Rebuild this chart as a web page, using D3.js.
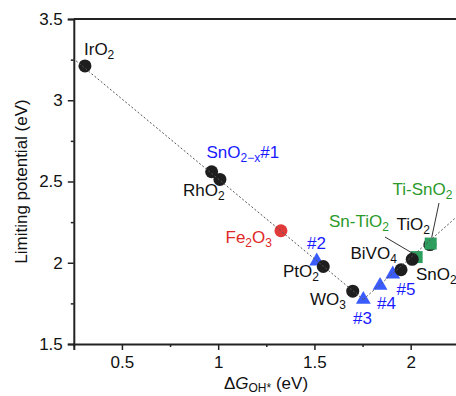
<!DOCTYPE html>
<html><head><meta charset="utf-8">
<script src="https://cdn.jsdelivr.net/npm/d3@7"></script>
<style>body{margin:0;background:#fff}svg{display:block}</style>
</head><body>
<script>
// ---- data ----
const circleNames = ["IrO2","SnO2-x#1","RhO2","Fe2O3","PtO2","WO3","SnO2","BiVO4","TiO2"];
const circleX = [0.308,0.966,1.009,1.326,1.546,1.699,1.950,2.008,2.100];
const circleY = [3.211,2.560,2.513,2.197,1.977,1.825,1.957,2.021,2.112];
const circleColor = ["#1e1e1e","#1e1e1e","#1e1e1e","#e03a3a","#1e1e1e","#1e1e1e","#1e1e1e","#1e1e1e","#1e1e1e"];
const triNames = ["#2","#3","#4","#5"];
const triX = [1.512,1.754,1.841,1.907];
const triY = [2.010,1.774,1.860,1.930];
const sqNames = ["Sn-TiO2","Ti-SnO2"];
const sqX = [2.031,2.104];
const sqY = [2.035,2.118];
const lineLeftX = [0.246,1.754];
const lineLeftY = [3.258,1.774];
const lineRightX = [1.754,2.25];
const lineRightY = [1.774,2.294];
const xTicks = [0.5,1,1.5,2];
const yTicks = [1.5,2,2.5,3,3.5];

const W=456,H=396;
const svg=d3.select("body").append("svg").attr("width",W).attr("height",H)
  .style("font-family","'Liberation Sans',Arial,sans-serif");
const x=d3.scaleLinear().domain([0.25,2.25]).range([73.8,458.8]);
const y=d3.scaleLinear().domain([1.5,3.5]).range([344,19]);
const FS=17;

// axes
const xAx=svg.append("g").attr("transform","translate(0,344)")
  .call(d3.axisBottom(x).tickValues(xTicks).tickFormat(d3.format("")).tickSize(6).tickPadding(6));
const xMin=svg.append("g").attr("transform","translate(0,344)")
  .call(d3.axisBottom(x).tickValues([0.25,0.75,1.25,1.75]).tickFormat("").tickSize(3));
const yAx=svg.append("g").attr("transform","translate(73.8,0)")
  .call(d3.axisLeft(y).tickValues(yTicks).tickFormat(d3.format("")).tickSize(6).tickPadding(5));
const yMin=svg.append("g").attr("transform","translate(73.8,0)")
  .call(d3.axisLeft(y).tickValues([1.75,2.25,2.75,3.25]).tickFormat("").tickSize(3));
[xAx,xMin,yAx,yMin].forEach(g=>{
  g.select(".domain").attr("stroke","#222").attr("stroke-width",2);
  g.selectAll(".tick line").attr("stroke","#222").attr("stroke-width",1.5);
  g.selectAll(".tick text").attr("font-size",FS).attr("fill","#111").attr("font-family","'Liberation Sans',Arial,sans-serif");
});
xMin.select(".domain").remove(); yMin.select(".domain").remove();
svg.append("line").attr("x1",x(0.25)).attr("x2",W+10).attr("y1",y(3.5)).attr("y2",y(3.5))
  .attr("stroke","#222").attr("stroke-width",1.8);

// axis titles
svg.append("text").attr("transform",`translate(27,${(19+344)/2}) rotate(-90)`)
  .attr("text-anchor","middle").attr("font-size",FS).attr("fill","#111").text("Limiting potential (eV)");
const xt=svg.append("text").attr("x",266).attr("y",389).attr("text-anchor","middle").attr("font-size",FS).attr("fill","#111");
xt.append("tspan").text("Δ");
xt.append("tspan").attr("font-style","italic").text("G");
xt.append("tspan").attr("font-size",12).attr("dy",3).text("OH*");
xt.append("tspan").attr("dy",-3).text(" (eV)");

// markers
const circ=circleNames.map((n,i)=>({n,x:circleX[i],y:circleY[i],c:circleColor[i]}));
const tri=triNames.map((n,i)=>({n,x:triX[i],y:triY[i]}));
const sq=sqNames.map((n,i)=>({n,x:sqX[i],y:sqY[i]}));
svg.append("g").selectAll("rect").data(sq.filter(d=>d.n==="Sn-TiO2")).join("rect")
  .attr("x",d=>x(d.x)-6).attr("y",d=>y(d.y)-6).attr("width",12).attr("height",12).attr("fill","#2e9e5e");
svg.append("g").selectAll("path").data(tri).join("path")
  .attr("d",d3.symbol(d3.symbolTriangle,95)).attr("transform",d=>`translate(${x(d.x)},${y(d.y)})`).attr("fill","#3a5cff");
svg.append("g").selectAll("circle").data(circ).join("circle")
  .attr("cx",d=>x(d.x)).attr("cy",d=>y(d.y)).attr("r",6.5).attr("fill",d=>d.c);
svg.append("g").selectAll("rect").data(sq.filter(d=>d.n==="Ti-SnO2")).join("rect")
  .attr("x",d=>x(d.x)-6).attr("y",d=>y(d.y)-6).attr("width",12).attr("height",12).attr("fill","#2e9e5e");

// dotted guide lines
const lineGen=d3.line().x(d=>x(d[0])).y(d=>y(d[1]));
svg.append("path").attr("d",lineGen(d3.zip(lineLeftX,lineLeftY))).attr("fill","none")
  .attr("stroke","#555").attr("stroke-width",1).attr("stroke-dasharray","2,2");
svg.append("path").attr("d",lineGen(d3.zip(lineRightX,lineRightY))).attr("fill","none")
  .attr("stroke","#555").attr("stroke-width",1).attr("stroke-dasharray","2,2");

// leader lines
svg.append("line").attr("x1",385).attr("y1",237).attr("x2",x(sqX[0])-1).attr("y2",y(sqY[0])-2).attr("stroke","#333").attr("stroke-width",1);
svg.append("line").attr("x1",439).attr("y1",203).attr("x2",x(sqX[1])+1).attr("y2",y(sqY[1])-6).attr("stroke","#333").attr("stroke-width",1);

// labels: [base, sub, rest, color, x, y, sub2]
const labels=[
  ["IrO","2","","#111",84,55],
  ["SnO","2−x","#1","#1a1aff",206.5,158],
  ["RhO","2","","#111",183,196],
  ["Fe","2","O","#e02828",225.5,242.5,"3"],
  ["#2","","","#1a1aff",307,249],
  ["PtO","2","","#111",283,276.5],
  ["WO","3","","#111",310,305],
  ["#3","","","#1a1aff",353,324],
  ["#4","","","#1a1aff",377,308.5],
  ["#5","","","#1a1aff",396.5,295],
  ["SnO","2","","#111",416,280],
  ["BiVO","4","","#111",350.5,259],
  ["Sn-TiO","2","","#2a9a2a",329,226.5],
  ["TiO","2","","#111",396.5,230],
  ["Ti-SnO","2","","#2a9a2a",392.5,195]
];
labels.forEach(l=>{
  const t=svg.append("text").attr("x",l[4]).attr("y",l[5]).attr("font-size",FS).attr("fill",l[3]);
  t.append("tspan").text(l[0]);
  if(l[1]){t.append("tspan").attr("font-size",12).attr("dy",4).text(l[1]);}
  if(l[2]){t.append("tspan").attr("dy",l[1]?-4:0).text(l[2]);}
  if(l[6]){t.append("tspan").attr("font-size",12).attr("dy",4).text(l[6]);}
});
</script>
</body></html>
